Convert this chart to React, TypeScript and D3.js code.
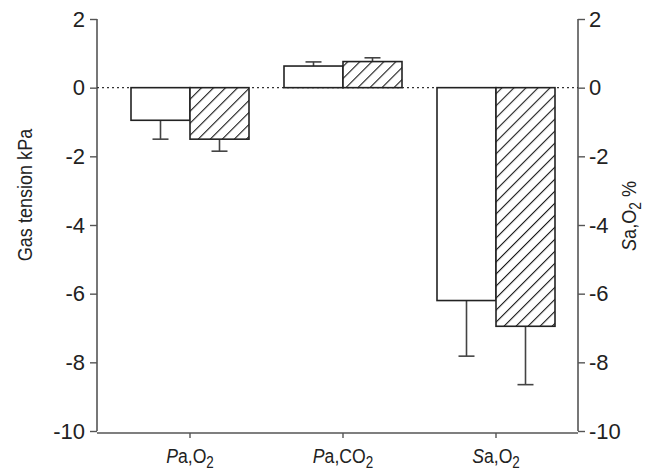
import React, { useEffect, useRef } from 'react';
import * as d3 from 'd3';

// categories: [italic letter, rest, subscript]
const categories = ['PaO2', 'PaCO2', 'SaO2'];
const catItalic = ['P', 'P', 'S'];
const catRest = ['a,O', 'a,CO', 'a,O'];
const catSub = ['2', '2', '2'];

const series = ['open', 'hatched'];
const openValues = [-0.95, 0.63, -6.2];
const openErrors = [0.55, 0.12, 1.62];
const hatchedValues = [-1.5, 0.76, -6.95];
const hatchedErrors = [0.35, 0.11, 1.7];

const yTicks = [2, 0, -2, -4, -6, -8, -10];

const FONT = "'Liberation Sans', Arial, sans-serif";

function App() {
  const ref = useRef<SVGSVGElement>(null);

  useEffect(() => {
    if (!ref.current) return;
    const svg = d3.select(ref.current);
    svg.selectAll('*').remove();

    const W = 653, H = 471;
    const left = 97, right = 578, top = 19, bottom = 431, xAxisY = 433;

    svg.attr('width', W).attr('height', H);

    // hatch pattern
    const defs = svg.append('defs');
    const pat = defs.append('pattern')
      .attr('id', 'hatch')
      .attr('patternUnits', 'userSpaceOnUse')
      .attr('width', 8.5)
      .attr('height', 8.5)
      .attr('patternTransform', 'rotate(45)');
    pat.append('rect').attr('width', 8.5).attr('height', 8.5).attr('fill', 'white');
    pat.append('line')
      .attr('x1', 0).attr('y1', 0).attr('x2', 0).attr('y2', 8.5)
      .attr('stroke', '#1a1a1a').attr('stroke-width', 2.2);

    const y = d3.scaleLinear().domain([-10, 2]).range([bottom, top]);
    const x = d3.scalePoint<string>().domain(categories).range([190, 496]);
    const xSub = d3.scaleBand<string>().domain(series).range([-59, 59]).padding(0);

    // left and right axes
    const gl = svg.append('g').attr('transform', `translate(${left},0)`)
      .call(d3.axisLeft(y).tickValues(yTicks).tickSize(7).tickPadding(5).tickFormat(d => String(d)));
    const gr = svg.append('g').attr('transform', `translate(${right},0)`)
      .call(d3.axisRight(y).tickValues(yTicks).tickSize(7).tickPadding(4).tickFormat(d => String(d)));
    [gl, gr].forEach(g => {
      g.select('.domain').attr('d', `M0,${top}V${bottom}`)
        .attr('stroke', '#555').attr('stroke-width', 1.6);
      g.selectAll('.tick line').attr('stroke', '#555').attr('stroke-width', 1.4);
      g.selectAll('.tick text').attr('fill', '#222').style('font-family', FONT).style('font-size', '22px');
    });

    // x axis
    svg.append('line')
      .attr('x1', left).attr('x2', right).attr('y1', xAxisY).attr('y2', xAxisY)
      .attr('stroke', '#555').attr('stroke-width', 1.6);
    categories.forEach((c, i) => {
      const cx = x(c)!;
      svg.append('line')
        .attr('x1', cx).attr('x2', cx).attr('y1', xAxisY).attr('y2', xAxisY + 5)
        .attr('stroke', '#555').attr('stroke-width', 1.4);
      const t = svg.append('text')
        .attr('transform', `translate(${cx},463) scale(0.84,1)`)
        .attr('text-anchor', 'middle')
        .style('font-family', FONT).style('font-size', '21px').attr('fill', '#222');
      t.append('tspan').style('font-style', 'italic').text(catItalic[i]);
      t.append('tspan').text(catRest[i]);
      t.append('tspan').attr('dy', 5).style('font-size', '16px').text(catSub[i]);
    });

    // zero line
    svg.append('line')
      .attr('x1', left).attr('x2', right).attr('y1', y(0)).attr('y2', y(0))
      .attr('stroke', '#333').attr('stroke-width', 1.4).attr('stroke-dasharray', '2,3');

    // bars with error bars
    const rows = categories.map((c, i) => [
      { cat: c, s: 'open', v: openValues[i], e: openErrors[i] },
      { cat: c, s: 'hatched', v: hatchedValues[i], e: hatchedErrors[i] },
    ]).flat();

    const bars = svg.append('g');
    rows.forEach(d => {
      const bx = x(d.cat)! + xSub(d.s)!;
      const bw = xSub.bandwidth();
      const cx = bx + bw / 2;
      const y0 = y(0), yv = y(d.v);
      const ye = y(d.v + (d.v < 0 ? -d.e : d.e));
      bars.append('line')
        .attr('x1', cx).attr('x2', cx).attr('y1', yv).attr('y2', ye)
        .attr('stroke', '#444').attr('stroke-width', 1.6);
      bars.append('line')
        .attr('x1', cx - 8).attr('x2', cx + 8).attr('y1', ye).attr('y2', ye)
        .attr('stroke', '#444').attr('stroke-width', 1.6);
      bars.append('rect')
        .attr('x', bx).attr('width', bw)
        .attr('y', Math.min(y0, yv)).attr('height', Math.abs(yv - y0))
        .attr('fill', d.s === 'hatched' ? 'url(#hatch)' : 'white')
        .attr('stroke', '#222').attr('stroke-width', 1.6);
    });

    // axis titles
    svg.append('text')
      .attr('transform', `translate(32,195) rotate(-90) scale(0.86,1)`)
      .attr('text-anchor', 'middle')
      .style('font-family', FONT).style('font-size', '21px').attr('fill', '#222')
      .text('Gas tension kPa');

    const rt = svg.append('text')
      .attr('transform', `translate(636,216) rotate(-90) scale(0.86,1)`)
      .attr('text-anchor', 'middle')
      .style('font-family', FONT).style('font-size', '21px').attr('fill', '#222');
    rt.append('tspan').style('font-style', 'italic').text('S');
    rt.append('tspan').text('a,O');
    rt.append('tspan').attr('dy', 5).style('font-size', '16px').text('2');
    rt.append('tspan').attr('dy', -5).text(' %');
  }, []);

  return (
    <svg ref={ref} style={{ position: 'absolute', left: 0, top: 0, background: 'white' }} />
  );
}

export default App;
